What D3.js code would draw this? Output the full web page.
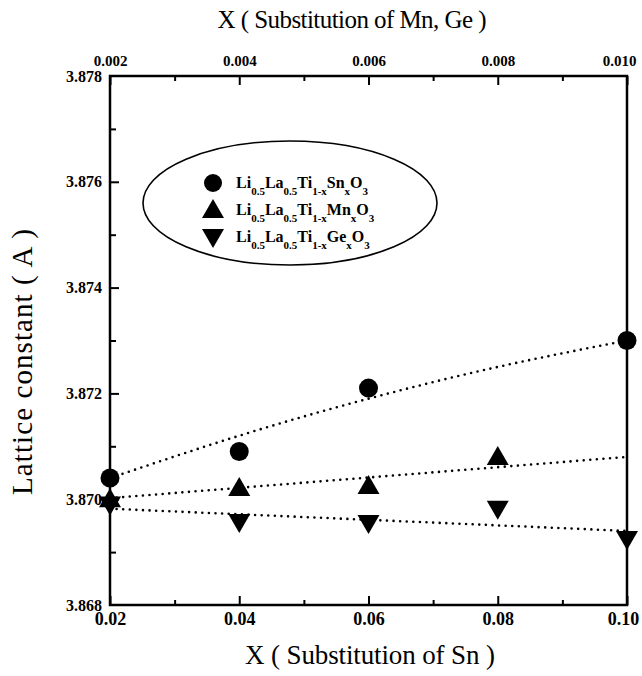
<!DOCTYPE html>
<html><head><meta charset="utf-8">
<script src="https://cdn.jsdelivr.net/npm/d3@7"></script>
<style>body{margin:0;background:#fff}svg{display:block}
.sf{font-family:"Liberation Serif","Times New Roman","DejaVu Serif",serif}</style>
</head><body><svg id="c" width="642" height="676"></svg>
<script>
// ---- data ----
const bottomTicks = [0.02, 0.04, 0.06, 0.08, 0.10];
const bottomTickLabels = ["0.02", "0.04", "0.06", "0.08", "0.10"];
const topTicks = [0.002, 0.004, 0.006, 0.008, 0.010];
const topTickLabels = ["0.002", "0.004", "0.006", "0.008", "0.010"];
const yTicks = [3.868, 3.870, 3.872, 3.874, 3.876, 3.878];
const yTickLabels = ["3.868", "3.870", "3.872", "3.874", "3.876", "3.878"];

const snX = [0.02, 0.04, 0.06, 0.10];          // bottom axis (Sn)
const snY = [3.8704, 3.8709, 3.8721, 3.8730];
const mnX = [0.002, 0.004, 0.006, 0.008];       // top axis (Mn)
const mnY = [3.8700, 3.87021, 3.87025, 3.8708];
const geX = [0.002, 0.004, 0.006, 0.008, 0.010]; // top axis (Ge)
const geY = [3.8699, 3.86957, 3.86955, 3.86982, 3.86925];

// dotted fit lines
const snFitX = [0.02, 0.04, 0.06, 0.08, 0.10];
const snFitY = [3.8704, 3.8712, 3.8719, 3.8725, 3.8730];
const mnFitX = [0.002, 0.010];
const mnFitY = [3.87002, 3.8708];
const geFitX = [0.002, 0.010];
const geFitY = [3.86982, 3.86940];

const legendNames = [
  ["Li","0.5","La","0.5","Ti","1-x","Sn","x","O","3"],
  ["Li","0.5","La","0.5","Ti","1-x","Mn","x","O","3"],
  ["Li","0.5","La","0.5","Ti","1-x","Ge","x","O","3"]
];

// ---- layout ----
const L = 110, R = 627, T = 76, B = 605;
const svg = d3.select("#c");

const xB = d3.scaleLinear().domain([0.02, 0.10]).range([L, R]);
const xT = d3.scaleLinear().domain([0.002, 0.010]).range([L, R]);
const y = d3.scaleLinear().domain([3.868, 3.878]).range([B, T]);

// frame
svg.append("rect").attr("x", L).attr("y", T).attr("width", R - L).attr("height", B - T)
  .attr("fill", "none").attr("stroke", "#000").attr("stroke-width", 2.5);

// axes
function styleAxis(g) {
  g.attr("font-family", null).attr("font-size", null);
  g.select(".domain").remove();
  g.selectAll("line").attr("stroke", "#000").attr("stroke-width", 2);
  g.selectAll("text").attr("class", "sf").attr("font-weight", "bold").attr("fill", "#000");
}
// bottom
const gB = svg.append("g").attr("transform", `translate(0,${B})`)
  .call(d3.axisBottom(xB).tickValues(bottomTicks).tickFormat((d, i) => bottomTickLabels[i])
    .tickSizeInner(-9).tickSizeOuter(0).tickPadding(7));
styleAxis(gB); gB.selectAll("text").attr("font-size", 18);
gB.selectAll(".tick").filter(d => d === 0.10).select("text").attr("dx", -4);
svg.append("g").attr("transform", `translate(0,${B})`)
  .call(d3.axisBottom(xB).tickValues(d3.range(0.03, 0.1, 0.02)).tickFormat("").tickSizeInner(-5).tickSizeOuter(0))
  .call(styleAxis);
// top
const gT = svg.append("g").attr("transform", `translate(0,${T})`)
  .call(d3.axisTop(xT).tickValues(topTicks).tickFormat((d, i) => topTickLabels[i])
    .tickSizeInner(-9).tickSizeOuter(0).tickPadding(10));
styleAxis(gT); gT.selectAll("text").attr("font-size", 15);
gT.selectAll(".tick").filter(d => d === 0.010).select("text").attr("dx", -8);
svg.append("g").attr("transform", `translate(0,${T})`)
  .call(d3.axisTop(xT).tickValues(d3.range(0.003, 0.010, 0.002)).tickFormat("").tickSizeInner(-5).tickSizeOuter(0))
  .call(styleAxis);
// left
const gL = svg.append("g").attr("transform", `translate(${L},0)`)
  .call(d3.axisLeft(y).tickValues(yTicks).tickFormat((d, i) => yTickLabels[i])
    .tickSizeInner(-9).tickSizeOuter(0).tickPadding(8));
styleAxis(gL); gL.selectAll("text").attr("font-size", 16);
gL.selectAll(".tick").filter(d => d === 3.878 || d === 3.868).select("line").remove();
svg.append("g").attr("transform", `translate(${L},0)`)
  .call(d3.axisLeft(y).tickValues(d3.range(3.869, 3.878, 0.002)).tickFormat("").tickSizeInner(-6).tickSizeOuter(0))
  .call(styleAxis);

// titles
svg.append("text").attr("class", "sf").attr("x", 352).attr("y", 28).attr("text-anchor", "middle")
  .attr("font-size", 25).attr("textLength", 269).attr("lengthAdjust", "spacing")
  .text("X ( Substitution of Mn, Ge )");
svg.append("text").attr("class", "sf").attr("x", 370).attr("y", 664).attr("text-anchor", "middle")
  .attr("font-size", 27).attr("textLength", 250).attr("lengthAdjust", "spacing")
  .text("X ( Substitution of Sn )");
svg.append("text").attr("class", "sf").attr("transform", "translate(32,362) rotate(-90)").attr("text-anchor", "middle")
  .attr("font-size", 29).attr("textLength", 266).attr("lengthAdjust", "spacing")
  .text("Lattice constant ( A )");

// fit lines
function dotted(xs, ys, xs_scale, curve) {
  const line = d3.line().x((d, i) => xs_scale(xs[i])).y((d, i) => y(ys[i])).curve(curve);
  svg.append("path").attr("d", line(ys)).attr("fill", "none").attr("stroke", "#000")
    .attr("stroke-width", 2.6).attr("stroke-linecap", "round").attr("stroke-dasharray", "0 6.6");
}
dotted(snFitX, snFitY, xB, d3.curveNatural);
dotted(mnFitX, mnFitY, xT, d3.curveLinear);
dotted(geFitX, geFitY, xT, d3.curveLinear);

// markers
const triUp = "M0,-11 L11,8 L-11,8 Z";
const triDown = "M0,11 L11,-8 L-11,-8 Z";
svg.append("g").selectAll("circle").data(snY).join("circle")
  .attr("cx", (d, i) => xB(snX[i])).attr("cy", d => y(d)).attr("r", 9.5).attr("fill", "#000");
svg.append("g").selectAll("path").data(mnY).join("path")
  .attr("transform", (d, i) => `translate(${xT(mnX[i])},${y(d)})`).attr("d", triUp).attr("fill", "#000");
svg.append("g").selectAll("path").data(geY).join("path")
  .attr("transform", (d, i) => `translate(${xT(geX[i])},${y(d)})`).attr("d", triDown).attr("fill", "#000");

// legend
svg.append("ellipse").attr("cx", 290).attr("cy", 203).attr("rx", 147).attr("ry", 62)
  .attr("fill", "none").attr("stroke", "#000").attr("stroke-width", 1.6);
const legY = [183, 210, 237];
svg.append("circle").attr("cx", 213).attr("cy", legY[0]).attr("r", 9).attr("fill", "#000");
svg.append("path").attr("transform", `translate(213,${legY[1]})`).attr("d", triUp).attr("fill", "#000");
svg.append("path").attr("transform", `translate(213,${legY[2]})`).attr("d", triDown).attr("fill", "#000");
legendNames.forEach((parts, k) => {
  const t = svg.append("text").attr("class", "sf").attr("x", 236).attr("y", legY[k] + 5)
    .attr("font-weight", "bold").attr("font-size", 16);
  parts.forEach((p, j) => {
    const sub = j % 2 === 1;
    t.append("tspan").attr("font-size", sub ? 11 : 16)
      .attr("dy", j === 0 ? 0 : (sub ? 7 : -7)).text(p);
  });
});
</script></body></html>
